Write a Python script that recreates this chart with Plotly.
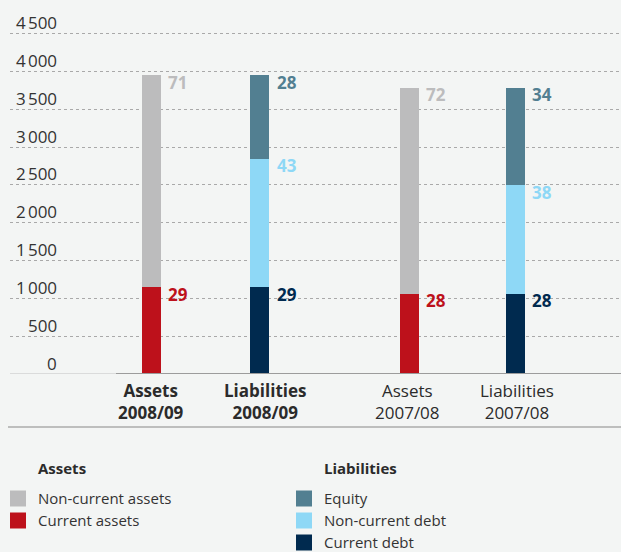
import plotly.graph_objects as go

# Balance sheet structure: total (EUR million) and percentage split per side
periods = ["2008/09", "2007/08"]
balance_total = [3950, 3785]

non_current_assets_pct = [71, 72]
current_assets_pct = [29, 28]
equity_pct = [28, 34]
non_current_debt_pct = [43, 38]
current_debt_pct = [29, 28]

y_tick_values = [0, 500, 1000, 1500, 2000, 2500, 3000, 3500, 4000, 4500]

# Colours
C_NC_ASSETS = "#bcbcbd"
C_C_ASSETS = "#bd111b"
C_EQUITY = "#527f91"
C_NC_DEBT = "#8ed8f6"
C_C_DEBT = "#002a4f"
C_TEXT = "#2b2b2b"
C_BG = "#f3f5f4"
FONT = "Open Sans"

# Canvas geometry
W, H = 621, 552
ML, MR, MT, MB = 10, 0, 20, 178
PW, PH = W - ML - MR, H - MT - MB
Y_MAX = 4682

# Bar slots on the x axis: (assets, liabilities) for each period
asset_x = [0.0, 2.41]
liab_x = [1.01, 3.40]
BAR_W = 0.178
X_RANGE = [-1.322, 4.388]
# small horizontal nudges of the category captions (assets, liabilities)
CAPTION_SHIFT = [(0, 5), (-2, 2)]


def px_x(px):
    return (px - ML) / PW


def px_y(py):
    return (H - MB - py) / PH


def seg(pcts):
    return [t * p / 100 for t, p in zip(balance_total, pcts)]


fig = go.Figure()

asset_series = [
    ("Current assets", current_assets_pct, C_C_ASSETS),
    ("Non-current assets", non_current_assets_pct, C_NC_ASSETS),
]
liab_series = [
    ("Current debt", current_debt_pct, C_C_DEBT),
    ("Non-current debt", non_current_debt_pct, C_NC_DEBT),
    ("Equity", equity_pct, C_EQUITY),
]

annotations = []


def add_stack(series, xs):
    base = [0.0 for _ in xs]
    for name, pcts, color in series:
        vals = seg(pcts)
        fig.add_trace(go.Bar(
            x=xs, y=vals, width=BAR_W, name=name,
            marker=dict(color=color, line=dict(width=0)),
            showlegend=False, hoverinfo="skip",
        ))
        for i, (x, v, p) in enumerate(zip(xs, vals, pcts)):
            top = base[i] + v
            annotations.append(dict(
                x=x, y=top, xref="x", yref="y", text=f"<b>{p}</b>",
                showarrow=False, xanchor="left", yanchor="middle",
                xshift=15, yshift=-7,
                font=dict(family=FONT, size=17, color=color),
            ))
            base[i] = top


add_stack(asset_series, asset_x)
add_stack(liab_series, liab_x)

# Category labels under the bars
for k, period in enumerate(periods):
    for j, (x, side) in enumerate(((asset_x[k], "Assets"), (liab_x[k], "Liabilities"))):
        if k == 0:
            txt = f"<b>{side}</b><br><b>{period}</b>"
        else:
            txt = f"{side}<br>{period}"
        annotations.append(dict(
            x=x, y=0, xref="x", yref="y", text=txt, showarrow=False,
            xanchor="center", yanchor="top", yshift=-3,
            xshift=CAPTION_SHIFT[k][j],
            font=dict(family=FONT, size=17, color=C_TEXT),
        ))

# Value axis labels sitting above the grid lines
for v in y_tick_values:
    label = f"{v:,}".replace(",", "\u202f")
    annotations.append(dict(
        x=px_x(59), y=v, xref="paper", yref="y", text=label,
        showarrow=False, xanchor="right", yanchor="middle", yshift=11,
        font=dict(family=FONT, size=17, color="#333333"),
    ))

shapes = [
    # baseline
    dict(type="line", xref="paper", yref="y", x0=px_x(10), x1=px_x(116),
         y0=0, y1=0, line=dict(color="#c2c2c2", width=1.2)),
    dict(type="line", xref="paper", yref="y", x0=px_x(116), x1=1,
         y0=0, y1=0, line=dict(color="#9c9c9c", width=2)),
    # separator above the legend
    dict(type="line", xref="paper", yref="paper", x0=px_x(8), x1=1,
         y0=px_y(427), y1=px_y(427), line=dict(color="#ababab", width=1.5)),
]

# Hand-built legend in two columns
legend_cols = [
    ("Assets", 10, [("Non-current assets", C_NC_ASSETS), ("Current assets", C_C_ASSETS)]),
    ("Liabilities", 296, [("Equity", C_EQUITY), ("Non-current debt", C_NC_DEBT),
                          ("Current debt", C_C_DEBT)]),
]
for title, x0, items in legend_cols:
    annotations.append(dict(
        x=px_x(x0 + 26), y=px_y(467.5), xref="paper", yref="paper",
        text=f"<b>{title}</b>", showarrow=False, xanchor="left", yanchor="middle",
        font=dict(family=FONT, size=15, color=C_TEXT),
    ))
    for r, (name, color) in enumerate(items):
        cy = 498.5 + 22 * r
        shapes.append(dict(
            type="rect", xref="paper", yref="paper",
            x0=px_x(x0), x1=px_x(x0 + 16), y0=px_y(cy - 8), y1=px_y(cy + 8),
            fillcolor=color, line=dict(width=0),
        ))
        annotations.append(dict(
            x=px_x(x0 + 26), y=px_y(cy - 0.5), xref="paper", yref="paper",
            text=name, showarrow=False, xanchor="left", yanchor="middle",
            font=dict(family=FONT, size=15, color="#333333"),
        ))

fig.update_layout(
    width=W, height=H,
    margin=dict(l=ML, r=MR, t=MT, b=MB, pad=0),
    paper_bgcolor=C_BG, plot_bgcolor=C_BG,
    barmode="stack", bargap=0,
    showlegend=False,
    font=dict(family=FONT, color=C_TEXT),
    xaxis=dict(range=X_RANGE, showgrid=False, zeroline=False,
               showticklabels=False, showline=False, fixedrange=True),
    yaxis=dict(range=[0, Y_MAX], tickvals=y_tick_values, showgrid=True,
               gridcolor="#a9a9a9", gridwidth=1, griddash="dot",
               zeroline=False, showticklabels=False, showline=False,
               fixedrange=True),
    annotations=annotations,
    shapes=shapes,
)

fig.write_html("out.html", config={"displayModeBar": False})
